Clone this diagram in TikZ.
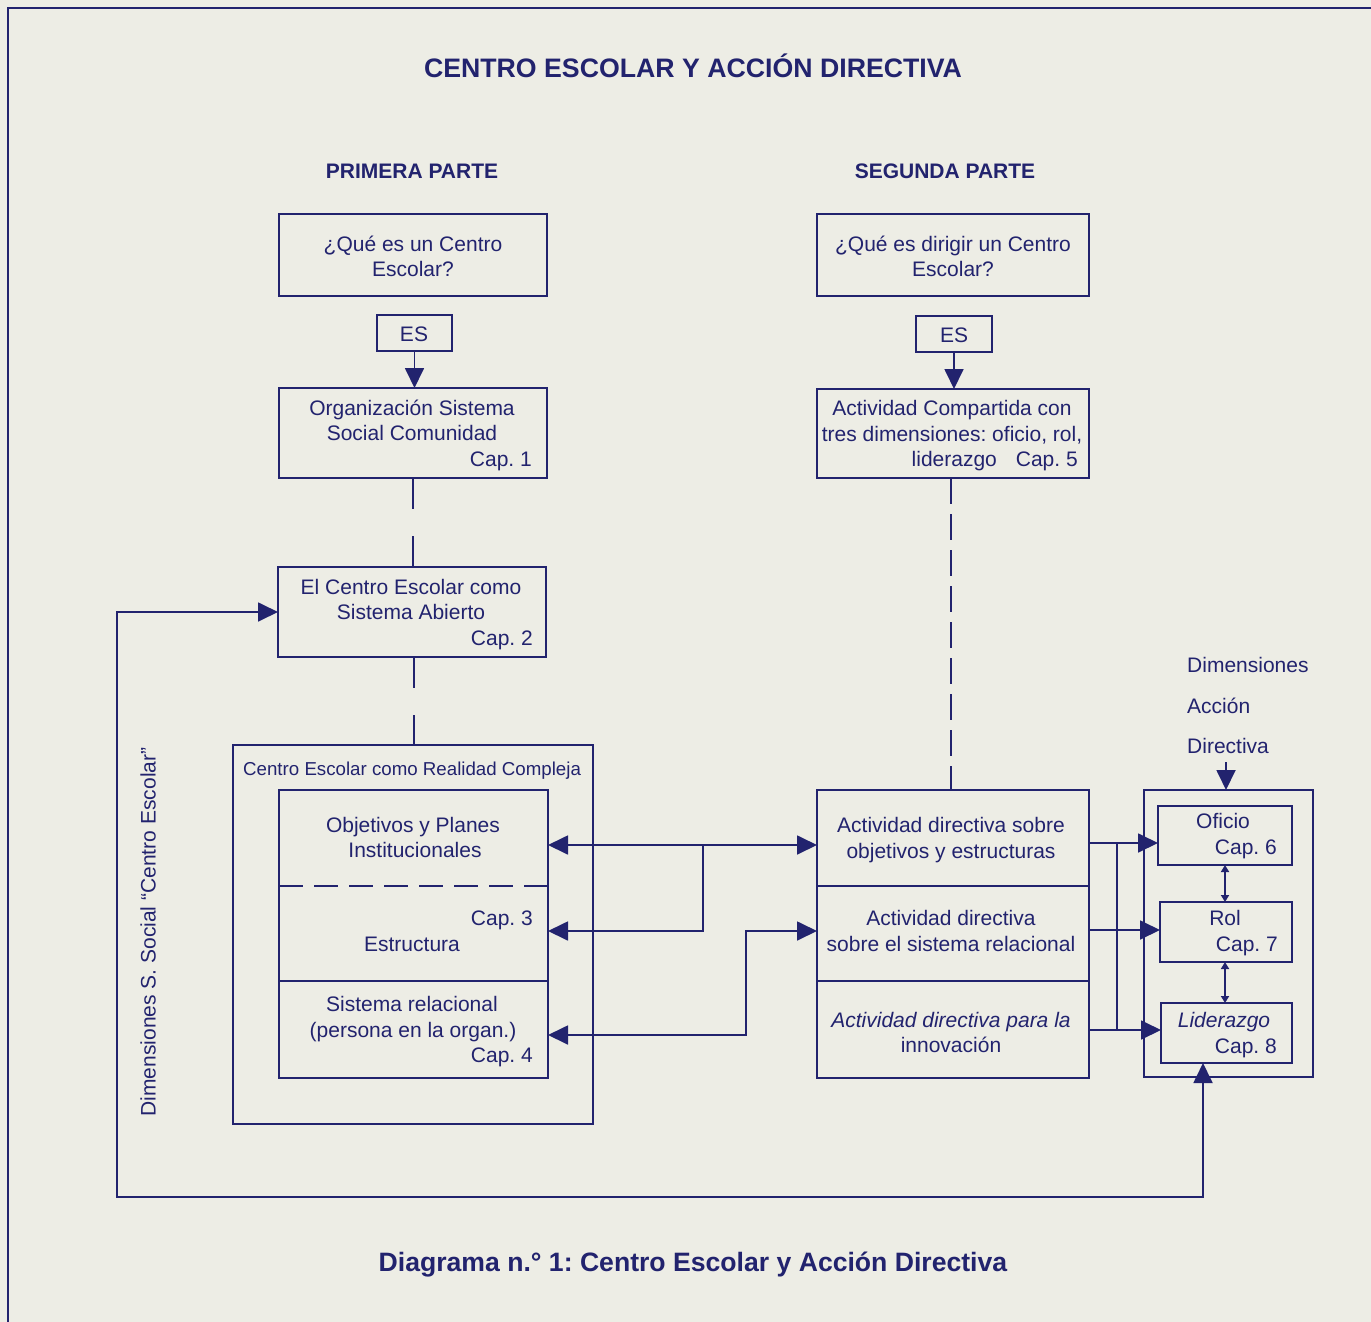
\documentclass[tikz,border=0pt]{standalone}
\usepackage{fontspec}
\setmainfont{Liberation Sans}
\usetikzlibrary{arrows.meta}
\definecolor{ink}{HTML}{22236E}
\definecolor{paper}{HTML}{EDEDE5}
\frenchspacing
\tikzset{
  box/.style={draw=ink, line width=1.6pt, anchor=north west, inner sep=0pt, outer sep=0pt},
  sec/.style={draw=none, anchor=north west, inner sep=0pt, outer sep=0pt},
  txt/.style={text=ink, font=\fontsize{21}{23}\selectfont, inner sep=0pt, anchor=mid, yshift=-5pt},
  txtr/.style={txt, anchor=mid east},
  txtl/.style={txt, anchor=mid west},
  conn/.style={draw=ink, line width=1.8pt},
  tip/.style={-{Triangle[length=20pt,width=19pt]}},
  dtip/.style={{Triangle[length=20pt,width=19pt]}-{Triangle[length=20pt,width=19pt]}},
  stip/.style={{Triangle[length=7pt,width=8pt]}-{Triangle[length=7pt,width=8pt]}},
  longdash/.style={conn, line width=2.6pt, dash pattern=on 31pt off 27pt},
}
\begin{document}
\begin{tikzpicture}[x=1pt,y=-1pt]
\fill[paper] (0,0) rectangle (1371,1322);
\useasboundingbox (0,0) rectangle (1371,1322);
% frame
\draw[ink, line width=1.4pt] (8,1322) -- (8,8) -- (1371,8);

% titles
\node[txt, font=\bfseries\fontsize{26.7}{29}\selectfont] (title) at (693,70) {CENTRO ESCOLAR Y ACCIÓN DIRECTIVA};
\node[txt, font=\bfseries\fontsize{21}{23}\selectfont] (p1) at (412,171) {PRIMERA PARTE};
\node[txt, font=\bfseries\fontsize{21}{23}\selectfont] (p2) at (945,171) {SEGUNDA PARTE};
\node[txt, font=\bfseries\fontsize{26.6}{29}\selectfont] (caption) at (693,1264) {Diagrama n.° 1: Centro Escolar y Acción Directiva};

% ---------- left column ----------
\node[box, minimum width=268pt, minimum height=82pt] (l1) at (279,214) {};
\node[txt] (l1a) at (413,244) {¿Qué es un Centro};
\node[txt] (l1b) at (413,269) {Escolar?};
\node[box, minimum width=75pt, minimum height=36pt] (les) at (377,315) {};
\node[txt] (lest) at (414,334) {ES};
\node[box, minimum width=268pt, minimum height=90pt] (l2) at (279,388) {};
\node[txt] (l2a) at (412,408) {Organización Sistema};
\node[txt] (l2b) at (412,433) {Social Comunidad};
\node[txtr] (l2c) at (532,459) {Cap. 1};
\node[box, minimum width=268pt, minimum height=90pt] (l3) at (278,567) {};
\node[txt] (l3a) at (411,587) {El Centro Escolar como};
\node[txt] (l3b) at (411,612) {Sistema Abierto};
\node[txtr] (l3c) at (533,638) {Cap. 2};
\node[box, minimum width=360pt, minimum height=379pt] (louter) at (233,745) {};
\node[txtl, font=\fontsize{18.7}{21}\selectfont] (loutert) at (243,768) {Centro Escolar como Realidad Compleja};
\node[box, minimum width=269pt, minimum height=288pt] (linner) at (279,790) {};
\node[sec, minimum width=269pt, minimum height=96pt] (ls1) at (279,790) {};
\node[sec, minimum width=269pt, minimum height=95pt] (ls2) at (279,886) {};
\node[sec, minimum width=269pt, minimum height=97pt] (ls3) at (279,981) {};
\draw[ink, line width=2.2pt, dash pattern=on 24pt off 11pt] (ls1.south west) -- (ls1.south east);
\draw[ink, line width=1.6pt] (ls3.north west) -- (ls3.north east);
\node[txt] (ls1a) at (413,825) {Objetivos y Planes};
\node[txt] (ls1b) at (415,850) {Institucionales};
\node[txtr] (ls2a) at (533,918) {Cap. 3};
\node[txt] (ls2b) at (412,944) {Estructura};
\node[txt] (ls3a) at (412,1004) {Sistema relacional};
\node[txt] (ls3b) at (413,1030) {(persona en la organ.)};
\node[txtr] (ls3c) at (533,1055) {Cap. 4};

% ---------- right column ----------
\node[box, minimum width=272pt, minimum height=82pt] (r1) at (817,214) {};
\node[txt] (r1a) at (953,244) {¿Qué es dirigir un Centro};
\node[txt] (r1b) at (953,269) {Escolar?};
\node[box, minimum width=76pt, minimum height=36pt] (res) at (916,316) {};
\node[txt] (rest) at (954,335) {ES};
\node[box, minimum width=272pt, minimum height=89pt] (r2) at (817,389) {};
\node[txt] (r2a) at (952,408) {Actividad Compartida con};
\node[txt] (r2b) at (952,434) {tres dimensiones: oficio, rol,};
\node[txtr] (r2c) at (1078,459) {liderazgo\hspace{19pt}Cap. 5};
\node[box, minimum width=272pt, minimum height=96pt] (rs1) at (817,790) {};
\node[box, minimum width=272pt, minimum height=95pt] (rs2) at (817,886) {};
\node[box, minimum width=272pt, minimum height=97pt] (rs3) at (817,981) {};
\node[txt] (rs1a) at (951,825) {Actividad directiva sobre};
\node[txt] (rs1b) at (951,851) {objetivos y estructuras};
\node[txt] (rs2a) at (951,918) {Actividad directiva};
\node[txt] (rs2b) at (951,944) {sobre el sistema relacional};
\node[txt, font=\itshape\fontsize{21}{23}\selectfont] (rs3a) at (951,1020) {Actividad directiva para la};
\node[txt] (rs3b) at (951,1045) {innovación};

% ---------- dimensions ----------
\node[txtl] (dim1) at (1187,665) {Dimensiones};
\node[txtl] (dim2) at (1187,706) {Acción};
\node[txtl] (dim3) at (1187,746) {Directiva};
\node[box, minimum width=169pt, minimum height=287pt] (dbox) at (1144,790) {};
\node[box, minimum width=134pt, minimum height=59pt] (ofi) at (1158,806) {};
\node[box, minimum width=132pt, minimum height=60pt] (rol) at (1160,902) {};
\node[box, minimum width=131pt, minimum height=60pt] (lid) at (1161,1003) {};
\node[txt] (ofia) at (1223,821) {Oficio};
\node[txtr] (ofib) at (1277,847) {Cap. 6};
\node[txt] (rola) at (1225,918) {Rol};
\node[txtr] (rolb) at (1278,944) {Cap. 7};
\node[txt, font=\itshape\fontsize{21}{23}\selectfont] (lida) at (1224,1020) {Liderazgo};
\node[txtr] (lidb) at (1277,1046) {Cap. 8};

% vertical label
\node[text=ink, font=\fontsize{21}{23}\selectfont, inner sep=0pt, anchor=mid, rotate=90] (vlab) at (153,932) {Dimensiones S. Social “Centro Escolar”};

% ---------- connectors ----------
\draw[conn, tip] (les.south) -- (l2.north -| les.south);
\draw[conn, tip] (res.south) -- (r2.north -| res.south);
\draw[longdash] (l2.south -| 413,0) -- (l3.north -| 413,0);
\draw[longdash] (l3.south -| 414,0) -- (louter.north -| 414,0);
\draw[conn, line width=2.6pt, dash pattern=on 26pt off 10pt] (r2.south -| 951,0) -- (rs1.north -| 951,0);

\coordinate (j1) at (703,845);
\coordinate (j2) at (703,931);
\coordinate (j3) at (746,931);
\coordinate (j4) at (746,1035);
\draw[conn, dtip] (linner.east |- j1) -- (rs1.west |- j1);
\draw[conn, tip] (j1) -- (j2) -- (linner.east |- j2);
\draw[conn, dtip] (linner.east |- j4) -- (j4) -- (j3) -- (rs2.west |- j3);

\coordinate (k1) at (1117,843);
\coordinate (k2) at (1117,930);
\coordinate (k3) at (1117,1030);
\draw[conn, tip] (rs1.east |- k1) -- (ofi.west |- k1);
\draw[conn, tip] (rs2.east |- k2) -- (rol.west |- k2);
\draw[conn, tip] (rs3.east |- k3) -- (lid.west |- k3);
\draw[conn] (k1) -- (k3);

\draw[conn, stip] (ofi.south -| 1225,0) -- (rol.north -| 1225,0);
\draw[conn, stip] (rol.south -| 1225,0) -- (lid.north -| 1225,0);
\draw[conn, tip] (1226,762) -- (dbox.north -| 1226,0);

\coordinate (fb) at (1203,1197);
\coordinate (fc) at (117,1197);
\draw[conn, dtip] (lid.south -| fb) -- (fb) -- (fc) -- (fc |- l3.west) -- (l3.west);
\end{tikzpicture}
\end{document}
